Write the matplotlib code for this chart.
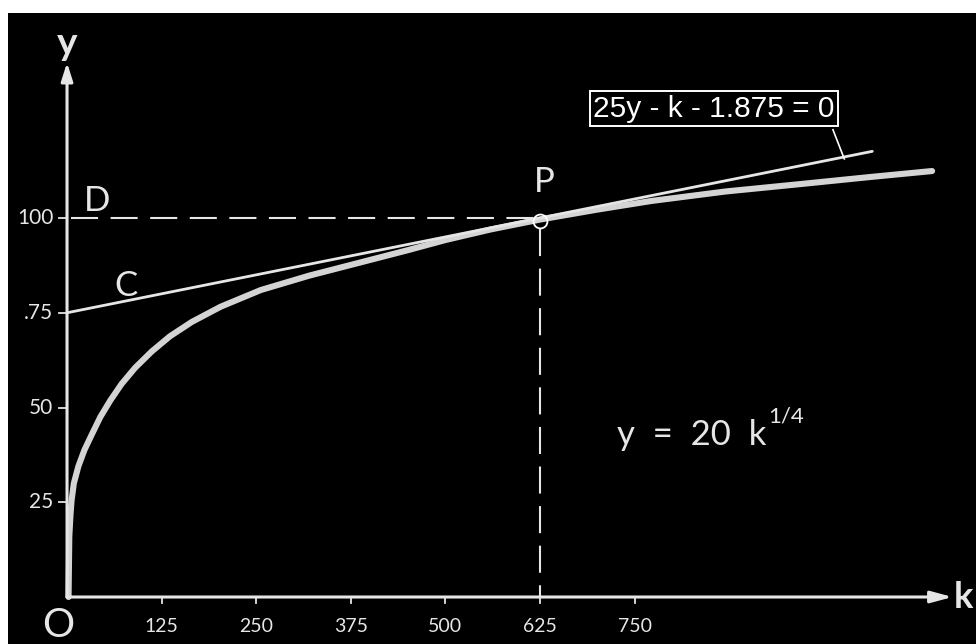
import matplotlib
matplotlib.use('Agg')
import matplotlib.pyplot as plt

# curve y = 20 k^(1/4)
curve_k = [2, 2.5, 3, 4.5, 6, 9, 15, 23, 33, 44, 57, 72, 90, 112, 136, 165, 203,
           256, 320, 388, 450, 500, 560, 625, 700, 772, 870, 971, 1060, 1143]
curve_y = [0, 8, 16, 21.5, 25.5, 30, 34.5, 38.8, 43, 47.5, 51.8, 56.2, 60.5, 64.8, 68.8, 72.6, 76.6,
           81, 84.8, 88.3, 91.5, 94.2, 97, 99.6, 102.2, 104.5, 107, 109, 110.8, 112.4]

# tangent line 25y - k - 1875 = 0
tangent_k = [0, 1064]
tangent_y = [75, 117.6]

# point P
p_k, p_y = 625, 99.2

x_ticks = [125, 250, 375, 500, 625, 750]
x_tick_labels = ['125', '250', '375', '500', '625', '750']
y_ticks = [25, 50, 75, 100]
y_tick_labels = ['25', '50', '.75', '100']

fg = '#e6e6e6'
font = ['Lato', 'DejaVu Sans']

fig = plt.figure(figsize=(9.76, 6.44), dpi=100, facecolor='white')
ax = fig.add_axes([8 / 976, 0, 968 / 976, 631 / 644])
ax.set_facecolor('black')
ax.set_xlim(-78, 1201)
ax.set_ylim(-12.4, 154.1)
ax.set_xticks([])
ax.set_yticks([])
for s in ax.spines.values():
    s.set_visible(False)

# axes with arrows
ax.annotate('', xy=(0, 141), xytext=(0, 0),
            arrowprops=dict(arrowstyle='-|>,head_length=1.1,head_width=0.35', color=fg, lw=2.2,
                            shrinkA=0, shrinkB=0))
ax.annotate('', xy=(1170, 0), xytext=(0, 0),
            arrowprops=dict(arrowstyle='-|>,head_length=1.3,head_width=0.35', color=fg, lw=2.2,
                            shrinkA=0, shrinkB=0))
ax.text(0.5, 146, 'y', color=fg, fontsize=28, ha='center', va='center', family=font, fontweight='bold')
ax.text(1172, 0, 'k', color=fg, fontsize=26, ha='left', va='center', family=font, fontweight='bold')
ax.text(-12, -7.4, 'O', color=fg, fontsize=29, ha='center', va='center', family=font)

# ticks
for k, lab in zip(x_ticks, x_tick_labels):
    ax.plot([k, k], [0, -1.6], color=fg, lw=1.3)
    ax.text(k, -7.8, lab, color=fg, fontsize=14, ha='center', va='center', family=font)
for yv, lab in zip(y_ticks, y_tick_labels):
    ax.plot([0, -10], [yv, yv], color=fg, lw=1.3)
    ax.text(-18, yv, lab, color=fg, fontsize=15, ha='right', va='center', family=font)

# dashed guides to P
dash = dict(color=fg, lw=1.5, dashes=(13, 6))
ax.plot([5, p_k], [100, 100], **dash)
ax.plot([p_k, p_k], [p_y - 2, 0], **dash)

# curve and tangent
ax.plot(curve_k, curve_y, color='#d4d4d4', lw=4.4, solid_capstyle='round', solid_joinstyle='round')
ax.plot(tangent_k, tangent_y, color=fg, lw=2.0, solid_capstyle='round')
ax.plot([p_k], [p_y], 'o', ms=10, mfc='none', mec='white', mew=1.3)

# letters
ax.text(40, 104.5, 'D', color=fg, fontsize=25, ha='center', va='center', family=font)
ax.text(78, 82, 'C', color=fg, fontsize=25, ha='center', va='center', family=font)
ax.text(630, 109.5, 'P', color=fg, fontsize=25, ha='center', va='center', family=font)
ax.text(826, 42.7, r'y  =  20  k', color=fg, fontsize=25, ha='center', va='center', family=font)
ax.text(950, 47.5, '1/4', color=fg, fontsize=16, ha='center', va='center', family=font)

# boxed equation with leader line
ax.text(855, 128.8, '25y - k - 1.875 = 0', color='white', fontsize=21.5, ha='center', va='center',
        family=['Liberation Sans', 'DejaVu Sans'],
        bbox=dict(boxstyle='square,pad=0.12', fc='black', ec='white', lw=1.4))
ax.plot([1012, 1027], [123.3, 115.6], color='white', lw=1.2)

fig.savefig('out.png', dpi=100, facecolor='white')
